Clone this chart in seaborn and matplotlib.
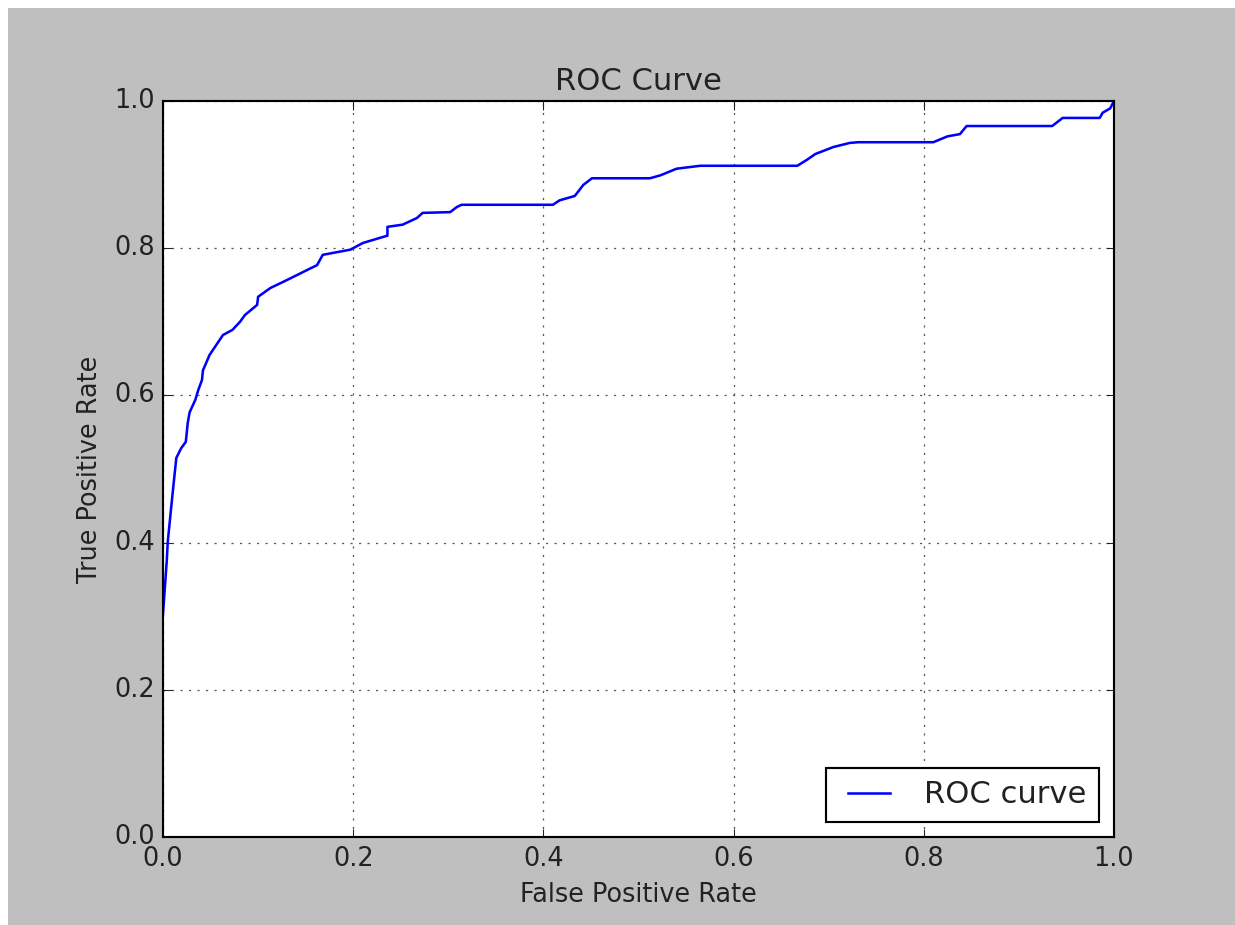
import matplotlib
matplotlib.use("Agg")
import matplotlib.pyplot as plt
import matplotlib.patches as mpatches
import seaborn as sns
import pandas as pd

# ROC curve points
fpr = [0.000, 0.004, 0.005, 0.008, 0.011, 0.014, 0.019, 0.024, 0.026, 0.028,
       0.034, 0.037, 0.041, 0.042, 0.049, 0.063, 0.073, 0.081, 0.086, 0.099,
       0.100, 0.113, 0.126, 0.137, 0.151, 0.162, 0.168, 0.197, 0.210, 0.228,
       0.236, 0.236, 0.252, 0.267, 0.273, 0.302, 0.309, 0.314, 0.410, 0.417,
       0.433, 0.442, 0.451, 0.512, 0.523, 0.540, 0.565, 0.667, 0.677, 0.686,
       0.705, 0.722, 0.731, 0.810, 0.825, 0.838, 0.845, 0.935, 0.946, 0.985,
       0.988, 0.996, 1.000]
tpr = [0.303, 0.376, 0.401, 0.440, 0.478, 0.515, 0.528, 0.537, 0.5625, 0.577,
       0.594, 0.607, 0.621, 0.634, 0.655, 0.682, 0.689, 0.700, 0.709, 0.723,
       0.734, 0.746, 0.754, 0.761, 0.770, 0.777, 0.791, 0.798, 0.807, 0.814,
       0.817, 0.829, 0.832, 0.841, 0.848, 0.849, 0.856, 0.859, 0.859, 0.865,
       0.871, 0.886, 0.895, 0.895, 0.899, 0.908, 0.912, 0.912, 0.920, 0.928,
       0.9375, 0.943, 0.944, 0.944, 0.952, 0.955, 0.966, 0.966, 0.977, 0.977,
       0.984, 0.990, 1.000]

title = "ROC Curve"
x_label = "False Positive Rate"
y_label = "True Positive Rate"
series_label = "ROC curve"

plt.style.use("classic")
plt.rcParams["font.family"] = ["DejaVu Sans"]
plt.rcParams["text.color"] = "#222222"
plt.rcParams["xtick.color"] = "#222222"
plt.rcParams["ytick.color"] = "#222222"
plt.rcParams["axes.labelcolor"] = "#222222"

W, H, DPI = 1235, 925, 153
fig = plt.figure(figsize=(W / DPI, H / DPI), dpi=DPI, facecolor="white")
# grey figure area (white strip at left/top as in the reference)
fig.patches.append(mpatches.Rectangle((8 / W, 0), 1 - 8 / W, 1 - 8 / H,
                                      transform=fig.transFigure,
                                      facecolor="#bfbfbf", edgecolor="none",
                                      zorder=-10))

ax = fig.add_axes([163 / W, (H - 837) / H, (1114 - 163) / W, (837 - 101) / H])
ax.set_axisbelow(True)

df = pd.DataFrame({"fpr": fpr, "tpr": tpr})
sns.lineplot(data=df, x="fpr", y="tpr", estimator=None, sort=False,
             color="blue", linewidth=1.2, label=series_label, ax=ax)

ax.set_xlim(0, 1)
ax.set_ylim(0, 1)
ax.set_xticks([0.0, 0.2, 0.4, 0.6, 0.8, 1.0])
ax.set_yticks([0.0, 0.2, 0.4, 0.6, 0.8, 1.0])
ax.grid(True, linestyle=":", color="0.35", linewidth=0.6)
ax.set_title(title)
ax.set_xlabel(x_label)
ax.set_ylabel(y_label)
ax.legend(loc="lower right")

fig.savefig("out.png", dpi=DPI, facecolor=fig.get_facecolor())
